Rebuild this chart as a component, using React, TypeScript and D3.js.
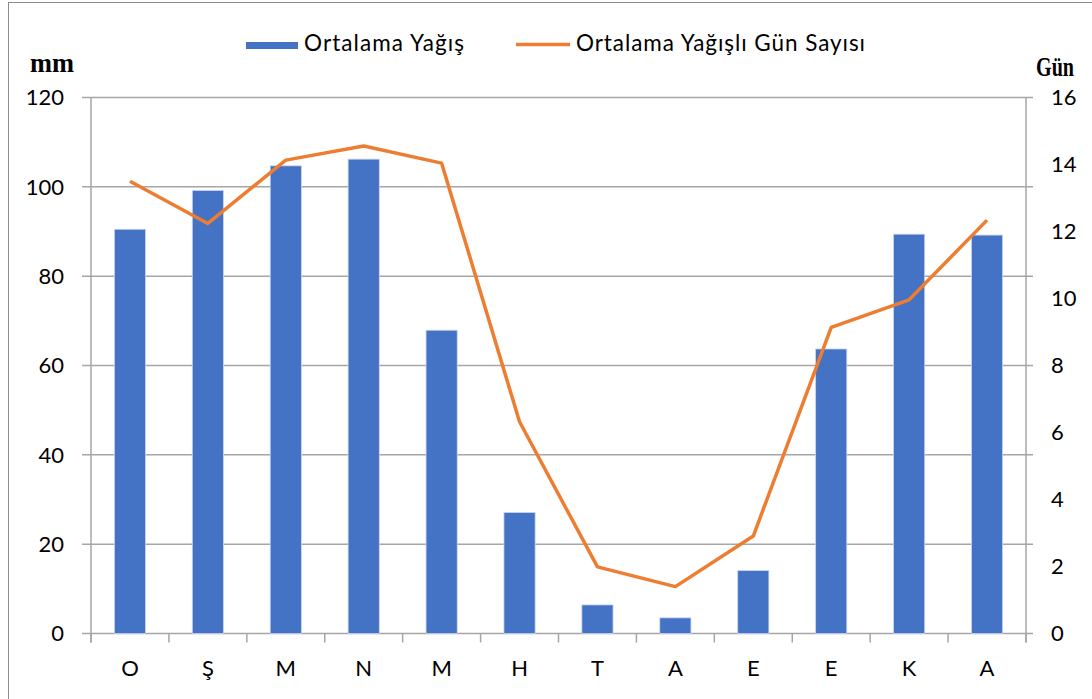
import * as d3 from 'd3'
import { useEffect, useRef } from 'react'

const months = ['O', 'Ş', 'M', 'N', 'M', 'H', 'T', 'A', 'E', 'E', 'K', 'A']
const rainfall = [90.5, 99.2, 104.7, 106.2, 67.9, 27.1, 6.4, 3.5, 14.1, 63.7, 89.4, 89.2]
const rainyDays = [13.5, 12.24, 14.13, 14.55, 14.04, 6.32, 1.99, 1.4, 2.91, 9.14, 9.96, 12.34]
const mmTicks = [0, 20, 40, 60, 80, 100, 120]
const dayTicks = [0, 2, 4, 6, 8, 10, 12, 14, 16]

const width = 1092
const height = 699
const marginTop = 97.5
const marginBottom = 65.5
const marginLeft = 91
const marginRight = 66

const barColor = '#4472C4'
const lineColor = '#ED7D31'
const gridColor = '#a6a6a6'
const font = 'Lato, "Open Sans", sans-serif'

export default function App() {
  const ref = useRef(null)

  useEffect(() => {
    const svg = d3.select(ref.current)
    svg.selectAll('*').remove()

    const x = d3
      .scaleBand<number>()
      .domain(d3.range(months.length))
      .range([marginLeft, width - marginRight])
      .paddingInner(0.6)
      .paddingOuter(0.3)
    const yL = d3.scaleLinear([0, 120], [height - marginBottom, marginTop])
    const yR = d3.scaleLinear([0, 16], [height - marginBottom, marginTop])
    const step = x.step()
    const x0 = marginLeft
    const x1 = width - marginRight

    // chart border
    svg
      .append('rect')
      .attr('x', 8.5)
      .attr('y', 2.5)
      .attr('width', width + 10)
      .attr('height', height + 10)
      .attr('fill', 'none')
      .attr('stroke', '#8c8c8c')
      .attr('stroke-width', 1)

    // gridlines with their tick stubs
    svg
      .append('g')
      .selectAll('line')
      .data(mmTicks)
      .join('line')
      .attr('x1', x0 - 9)
      .attr('x2', x1 + 7)
      .attr('y1', d => yL(d))
      .attr('y2', d => yL(d))
      .attr('stroke', gridColor)
      .attr('stroke-width', 1.5)

    // vertical axis lines
    svg
      .append('g')
      .selectAll('line')
      .data([x0, x1])
      .join('line')
      .attr('x1', d => d)
      .attr('x2', d => d)
      .attr('y1', marginTop)
      .attr('y2', height - marginBottom + 9)
      .attr('stroke', gridColor)
      .attr('stroke-width', 1.5)

    // category ticks
    svg
      .append('g')
      .selectAll('line')
      .data(d3.range(months.length + 1))
      .join('line')
      .attr('x1', i => x0 + i * step)
      .attr('x2', i => x0 + i * step)
      .attr('y1', height - marginBottom)
      .attr('y2', height - marginBottom + 9)
      .attr('stroke', gridColor)
      .attr('stroke-width', 1.5)

    // bars
    svg
      .append('g')
      .selectAll('rect')
      .data(rainfall)
      .join('rect')
      .attr('x', (_, i) => x(i)!)
      .attr('y', d => yL(d))
      .attr('width', x.bandwidth())
      .attr('height', d => yL(0) - yL(d))
      .attr('fill', barColor)
      .attr('stroke', '#c9d6ef')
      .attr('stroke-width', 0.8)

    // rainy days line
    const line = d3
      .line<number>()
      .x((_, i) => x(i)! + x.bandwidth() / 2)
      .y(d => yR(d))
    svg
      .append('path')
      .attr('d', line(rainyDays))
      .attr('fill', 'none')
      .attr('stroke', lineColor)
      .attr('stroke-width', 3.5)
      .attr('stroke-linejoin', 'round')

    // tick labels
    svg
      .append('g')
      .attr('font-family', font)
      .attr('font-size', 22)
      .attr('text-anchor', 'end')
      .selectAll('text')
      .data(mmTicks)
      .join('text')
      .attr('x', 64)
      .attr('y', d => yL(d))
      .attr('dy', '0.36em')
      .text(d => d)

    svg
      .append('g')
      .attr('font-family', font)
      .attr('font-size', 22)
      .attr('text-anchor', 'start')
      .selectAll('text')
      .data(dayTicks)
      .join('text')
      .attr('x', 1051)
      .attr('y', d => yR(d))
      .attr('dy', '0.36em')
      .text(d => d)

    svg
      .append('g')
      .attr('font-family', font)
      .attr('font-size', 22)
      .attr('text-anchor', 'middle')
      .selectAll('text')
      .data(months)
      .join('text')
      .attr('x', (_, i) => x(i)! + x.bandwidth() / 2)
      .attr('y', 676)
      .text(d => d)

    // axis titles
    svg
      .append('text')
      .attr('x', 30)
      .attr('y', 72)
      .attr('font-family', '"Liberation Serif", serif')
      .attr('font-weight', 'bold')
      .attr('font-size', 28)
      .attr('textLength', 44)
      .attr('lengthAdjust', 'spacingAndGlyphs')
      .text('mm')
    svg
      .append('text')
      .attr('x', 1036)
      .attr('y', 76)
      .attr('font-family', '"Liberation Serif", serif')
      .attr('font-weight', 'bold')
      .attr('font-size', 28)
      .attr('textLength', 38)
      .attr('lengthAdjust', 'spacingAndGlyphs')
      .text('Gün')

    // legend
    const legend = svg.append('g').attr('font-family', font).attr('font-size', 22.5)
    legend
      .append('rect')
      .attr('x', 246)
      .attr('y', 42)
      .attr('width', 52)
      .attr('height', 7)
      .attr('fill', barColor)
    legend
      .append('text')
      .attr('x', 304)
      .attr('y', 50.5)
      .attr('textLength', 160)
      .attr('lengthAdjust', 'spacing')
      .text('Ortalama Yağış')
    legend
      .append('line')
      .attr('x1', 516)
      .attr('x2', 570)
      .attr('y1', 44.5)
      .attr('y2', 44.5)
      .attr('stroke', lineColor)
      .attr('stroke-width', 3.5)
    legend
      .append('text')
      .attr('x', 576)
      .attr('y', 50.5)
      .attr('textLength', 289)
      .attr('lengthAdjust', 'spacing')
      .text('Ortalama Yağışlı Gün Sayısı')
  }, [])

  return (
    <svg
      ref={ref}
      width={width}
      height={height}
      viewBox={`0 0 ${width} ${height}`}
      style={{ position: 'absolute', left: 0, top: 0, background: '#fff' }}
    ></svg>
  )
}
